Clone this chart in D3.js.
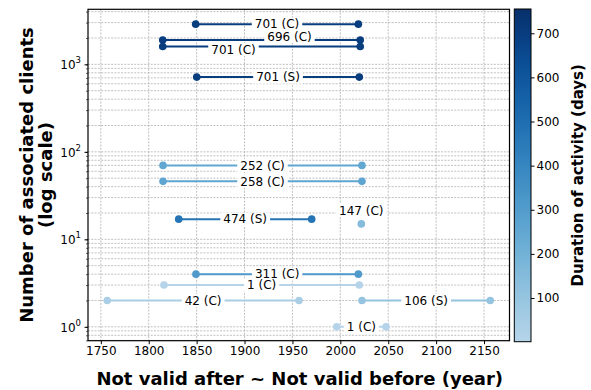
<!DOCTYPE html>
<html>
<head>
<meta charset="utf-8">
<script src="https://cdn.jsdelivr.net/npm/d3@7"></script>
<style>
  html, body { margin: 0; padding: 0; background: #fff; }
  svg { display: block; font-family: "DejaVu Sans", sans-serif; }
</style>
</head>
<body>
<svg id="chart" width="591" height="390"></svg>
<script>
// ---- data ----
const labels     = ["701 (C)", "696 (C)", "701 (C)", "701 (S)", "252 (C)", "258 (C)", "474 (S)", "147 (C)", "311 (C)", "1 (C)", "42 (C)", "106 (S)", "1 (C)"];
const durations  = [701, 696, 701, 701, 252, 258, 474, 147, 311, 1, 42, 106, 1];
const notAfter   = [1849.0, 1814.6, 1814.6, 1850.1, 1814.9, 1814.9, 1831.3, 2021.9, 1849.3, 1815.9, 1756.7, 2022.6, 1996.2];
const notBefore  = [2018.8, 2020.8, 2020.8, 2019.8, 2022.6, 2022.6, 1970.1, 2021.9, 2018.8, 2019.8, 1956.9, 2156.5, 2047.7];
const clients    = [2880, 1900, 1600, 715, 70, 46, 17, 15, 4, 3, 2, 2, 1];
const xTicks     = [1750, 1800, 1850, 1900, 1950, 2000, 2050, 2100, 2150];
const yMajor     = [1, 10, 100, 1000];
const cbTicks    = [100, 200, 300, 400, 500, 600, 700];
// label placement nudges (pixels) to avoid overlaps
const labelDx    = [0, 28, -28, 0, 0, 0, 0, 0, 0, 0, 0, 0, 0];
const labelDy    = [0, -3.5, 3, 0, 0, 0, 0, -13.5, 0, 0, 0, 0, 0];

const svg = d3.select("#chart");
const L = 88, R = 509.5, T = 9.3, B = 340.7;

const x = d3.scaleLinear().domain([1736.6, 2176.6]).range([L, R]);
const y = d3.scaleLog().domain([0.694, 4256]).range([B, T]);
const cmin = 1, cmax = 755;
const color = v => d3.interpolateBlues(0.3 + 0.7 * (v - cmin) / (cmax - cmin));

// ---- grid ----
const grid = svg.append("g");
const minorVals = [];
for (let k = -1; k <= 3; k++) for (let m = 1; m <= 9; m++) {
  const v = m * Math.pow(10, k);
  if (v >= 0.694 && v <= 4256) minorVals.push(v);
}
grid.selectAll("line.hy").data(minorVals).enter().append("line")
  .attr("x1", L).attr("x2", R)
  .attr("y1", d => y(d)).attr("y2", d => y(d))
  .attr("stroke", "#b0b0b0").attr("stroke-width", 0.8).attr("stroke-dasharray", "2,1.3");
grid.selectAll("line.vx").data(xTicks).enter().append("line")
  .attr("x1", d => x(d)).attr("x2", d => x(d))
  .attr("y1", T).attr("y2", B)
  .attr("stroke", "#b0b0b0").attr("stroke-width", 0.8).attr("stroke-dasharray", "2,1.3");

// ---- axes ----
const xAxis = d3.axisBottom(x).tickValues(xTicks).tickSize(3.5).tickPadding(2).tickFormat(d3.format("d"));
const gx = svg.append("g").attr("transform", `translate(0,${B})`).call(xAxis);
gx.select(".domain").remove();
gx.selectAll("text").attr("font-size", 12).attr("fill", "#000").attr("font-family", "DejaVu Sans");

const yAxisMinor = d3.axisLeft(y).tickValues(minorVals).tickSize(2).tickFormat("");
const gym = svg.append("g").attr("transform", `translate(${L},0)`).call(yAxisMinor);
gym.select(".domain").remove();
gym.selectAll("line").attr("stroke-width", 0.6);
const yAxis = d3.axisLeft(y).tickValues(yMajor).tickSize(3.5).tickFormat("");
const gy = svg.append("g").attr("transform", `translate(${L},0)`).call(yAxis);
gy.select(".domain").remove();
yMajor.forEach(v => {
  const t = svg.append("text").attr("x", 81).attr("y", y(v) + 5)
    .attr("text-anchor", "end").attr("font-size", 12).attr("fill", "#000");
  t.append("tspan").text("10");
  t.append("tspan").attr("dy", -6).attr("font-size", 8.5).text(String(Math.round(Math.log10(v))));
});

// ---- series ----
const idx = d3.range(labels.length);
const gl = svg.append("g");
idx.forEach(i => {
  const c = color(durations[i]);
  if (notAfter[i] !== notBefore[i]) {
    gl.append("line")
      .attr("x1", x(notAfter[i])).attr("x2", x(notBefore[i]))
      .attr("y1", y(clients[i])).attr("y2", y(clients[i]))
      .attr("stroke", c).attr("stroke-width", 2);
    gl.append("circle").attr("cx", x(notAfter[i])).attr("cy", y(clients[i])).attr("r", 3.8).attr("fill", c);
  }
  gl.append("circle").attr("cx", x(notBefore[i])).attr("cy", y(clients[i])).attr("r", 3.8).attr("fill", c);
});

// labels with white boxes
idx.forEach(i => {
  const cx = (x(notAfter[i]) + x(notBefore[i])) / 2 + labelDx[i];
  const cy = y(clients[i]) + labelDy[i];
  const g = svg.append("g");
  const rect = g.append("rect").attr("fill", "#fff");
  const t = g.append("text").attr("x", cx).attr("y", cy + 4.3)
    .attr("text-anchor", "middle").attr("font-size", 12).attr("fill", "#000").text(labels[i]);
  const bb = t.node().getBBox();
  rect.attr("x", bb.x - 3).attr("y", cy - 6.5).attr("width", bb.width + 6).attr("height", 13);
});

// ---- frame ----
svg.append("rect").attr("x", L).attr("y", T).attr("width", R - L).attr("height", B - T)
  .attr("fill", "none").attr("stroke", "#000").attr("stroke-width", 1.2);

// ---- axis titles ----
svg.append("text").attr("x", (L + R) / 2 + 1).attr("y", 385)
  .attr("text-anchor", "middle").attr("font-size", 18).attr("font-weight", "bold").attr("fill", "#000")
  .text("Not valid after ~ Not valid before (year)");
const yt = svg.append("text").attr("transform", `translate(33,${(T + B) / 2}) rotate(-90)`)
  .attr("text-anchor", "middle").attr("font-size", 18).attr("font-weight", "bold").attr("fill", "#000");
yt.append("tspan").attr("x", 0).attr("dy", 0).text("Number of associated clients");
yt.append("tspan").attr("x", 0).attr("dy", 19).text("(log scale)");

// ---- colorbar ----
const cbL = 514.3, cbR = 531, cbT = 9, cbB = 341.7;
const cy = d3.scaleLinear().domain([cmin, cmax]).range([cbB, cbT]);
const defs = svg.append("defs");
const grad = defs.append("linearGradient").attr("id", "cbgrad")
  .attr("x1", 0).attr("y1", 1).attr("x2", 0).attr("y2", 0);
d3.range(0, 1.0001, 0.05).forEach(t => {
  grad.append("stop").attr("offset", t).attr("stop-color", color(cmin + t * (cmax - cmin)));
});
svg.append("rect").attr("x", cbL).attr("y", cbT).attr("width", cbR - cbL).attr("height", cbB - cbT)
  .attr("fill", "url(#cbgrad)").attr("stroke", "#000").attr("stroke-width", 1);
const cbAxis = d3.axisRight(cy).tickValues(cbTicks).tickSize(3.5).tickPadding(2).tickFormat(d3.format("d"));
const gcb = svg.append("g").attr("transform", `translate(${cbR},0)`).call(cbAxis);
gcb.select(".domain").remove();
gcb.selectAll("text").attr("font-size", 12).attr("fill", "#000").attr("font-family", "DejaVu Sans");
svg.append("text").attr("transform", `translate(583,${(cbT + cbB) / 2}) rotate(-90)`)
  .attr("text-anchor", "middle").attr("font-size", 15).attr("font-weight", "bold").attr("fill", "#000")
  .text("Duration of activity (days)");
</script>
</body>
</html>
